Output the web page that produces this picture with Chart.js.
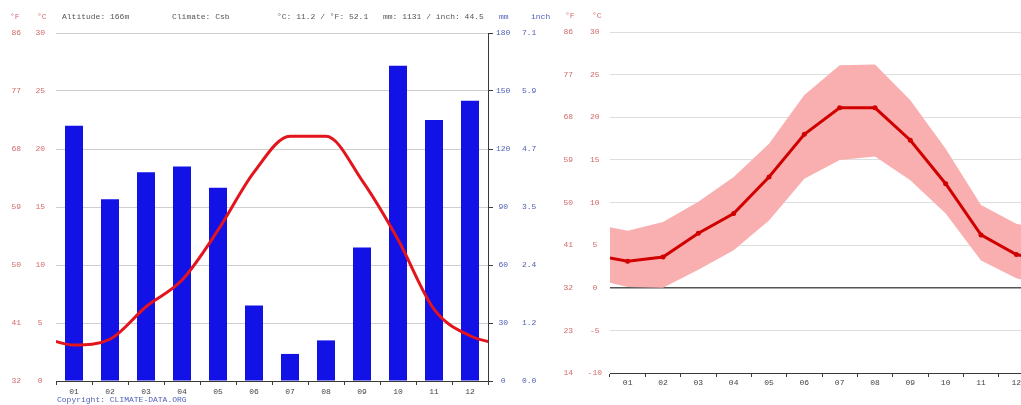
<!DOCTYPE html>
<html>
<head>
<meta charset="utf-8">
<script src="https://cdn.jsdelivr.net/npm/chart.js@4.4.1/dist/chart.umd.min.js"></script>
<style>
  html, body { margin:0; padding:0; background:#fff; }
  body { width:1021px; height:405px; overflow:hidden; position:relative; font-family:"Liberation Mono", "DejaVu Sans Mono", monospace; }
  .t { position:absolute; font-size:8px; line-height:8px; white-space:pre; }
  .red { color:#d46a6a; }
  .blue { color:#5060b8; }
  .gray { color:#555; }
  #w1 { position:absolute; left:0; top:0; width:550px; height:405px; }
  #w2 { position:absolute; left:550px; top:0; width:500px; height:405px; }
</style>
</head>
<body>
<div id="w1"><canvas id="c1" width="550" height="405"></canvas></div>
<div id="w2"><canvas id="c2" width="500" height="405"></canvas></div>

<span class="t red" style="left:10px;top:13px">°F</span>
<span class="t red" style="left:37px;top:13px">°C</span>
<span class="t gray" style="left:62px;top:13px" id="hAlt"></span>
<span class="t gray" style="left:172px;top:13px" id="hClim"></span>
<span class="t gray" style="left:277px;top:13px" id="hTemp"></span>
<span class="t gray" style="left:383px;top:13px" id="hPrec"></span>
<span class="t blue" style="left:499px;top:13px">mm</span>
<span class="t blue" style="left:531px;top:13px">inch</span>
<span class="t blue" style="left:57px;top:396px">Copyright: CLIMATE-DATA.ORG</span>

<span class="t red" style="left:565px;top:12px">°F</span>
<span class="t red" style="left:592px;top:12px">°C</span>

<script>
// ---------------- data ----------------
const months = ['01','02','03','04','05','06','07','08','09','10','11','12'];
const precipMm = [132, 94, 108, 111, 100, 39, 14, 21, 69, 163, 135, 145];
const tempMean = [3.1, 3.6, 6.4, 8.7, 13.0, 18.0, 21.1, 21.1, 17.3, 12.2, 6.2, 3.9];
const tempMax  = [6.7, 7.7, 10.1, 13.0, 16.9, 22.6, 26.1, 26.2, 22.0, 16.3, 9.7, 7.5];
const tempMin  = [0.1, 0.0, 2.1, 4.4, 7.9, 12.8, 15.0, 15.4, 12.6, 8.7, 3.2, 1.1];

const climTicksC = [0, 5, 10, 15, 20, 25, 30];
const climTicksF = [32, 41, 50, 59, 68, 77, 86];
const mmTicks    = [0, 30, 60, 90, 120, 150, 180];
const inchTicks  = ['0.0', '1.2', '2.4', '3.5', '4.7', '5.9', '7.1'];
const rangeTicksC = [-10, -5, 0, 5, 10, 15, 20, 25, 30];
const rangeTicksF = [14, 23, 32, 41, 50, 59, 68, 77, 86];

const altitudeText = 'Altitude: 166m';
const climateText = 'Climate: Csb';
const tempSummary = '°C: 11.2 / °F: 52.1';
const precSummary = 'mm: 1131 / inch: 44.5';

document.getElementById('hAlt').textContent = altitudeText;
document.getElementById('hClim').textContent = climateText;
document.getElementById('hTemp').textContent = tempSummary;
document.getElementById('hPrec').textContent = precSummary;

// ---------------- helpers ----------------
// year wraps around: December before January, January after December
function wrapSeries(vals) {
  const n = vals.length;
  const pts = [{x: -0.5, y: vals[n - 1]}];
  vals.forEach((v, i) => pts.push({x: i + 0.5, y: v}));
  pts.push({x: n + 0.5, y: vals[0]});
  return pts;
}
function fixedTicks(arr) {
  return function (scale) { scale.ticks = arr.map(v => ({value: v})); };
}
function setWidth(w) { return function (s) { s.width = w; }; }
function setHeight(h) { return function (s) { s.height = h; }; }

Chart.defaults.font.family = '"Liberation Mono", "DejaVu Sans Mono", monospace';
Chart.defaults.font.size = 8;

const RED_TXT = '#d46a6a';
const BLUE_TXT = '#5060b8';
const AX = '#3a3a3a';
const font = {family: Chart.defaults.font.family, size: 8};

// ---------------- left: climograph ----------------
new Chart(document.getElementById('c1'), {
  type: 'line',
  data: {
    labels: months,
    datasets: [
      {
        type: 'line',
        data: wrapSeries(tempMean),
        xAxisID: 'xl',
        yAxisID: 'yC',
        borderColor: '#e3141b',
        borderWidth: 3,
        pointRadius: 0,
        cubicInterpolationMode: 'monotone',
        fill: false,
        clip: 0,
        order: 0
      },
      {
        type: 'bar',
        data: precipMm,
        xAxisID: 'x',
        yAxisID: 'yMm',
        backgroundColor: '#1212e6',
        grouped: false,
        barPercentage: 0.5,
        categoryPercentage: 1,
        order: 1
      }
    ]
  },
  options: {
    responsive: false,
    animation: false,
    devicePixelRatio: 1,
    layout: {padding: {top: 33, bottom: 10, left: 0, right: 0}},
    plugins: {legend: {display: false}, tooltip: {enabled: false}},
    scales: {
      x: {
        type: 'category', labels: months, offset: true, position: 'bottom',
        grid: {offset: true, drawOnChartArea: false, tickLength: 4, color: AX},
        border: {color: AX},
        ticks: {color: '#444', font: font, padding: 2, maxRotation: 0, autoSkip: false},
        afterFit: setHeight(14)
      },
      xl: {type: 'linear', display: false, min: 0, max: 12, offset: false, grid: {offset: false}},
      yC: {
        position: 'left', min: 0, max: 30, weight: 1,
        afterBuildTicks: fixedTicks(climTicksC),
        ticks: {color: RED_TXT, font: font, crossAlign: 'center', padding: 11},
        grid: {color: '#cfcfcf', drawTicks: false},
        border: {display: false},
        afterFit: setWidth(28)
      },
      yF: {
        position: 'left', min: 0, max: 30, weight: 2,
        afterBuildTicks: fixedTicks(climTicksC),
        ticks: {color: RED_TXT, font: font, crossAlign: 'center', padding: 7,
                callback: (v, i) => climTicksF[i]},
        grid: {display: false, drawTicks: false},
        border: {display: false},
        afterFit: setWidth(28)
      },
      yMm: {
        position: 'right', min: 0, max: 180, weight: 1,
        afterBuildTicks: fixedTicks(mmTicks),
        ticks: {color: BLUE_TXT, font: font, crossAlign: 'center', padding: 3},
        grid: {drawOnChartArea: false, tickLength: 5, color: AX},
        border: {color: AX},
        afterFit: setWidth(28)
      },
      yIn: {
        position: 'right', min: 0, max: 180, weight: 2,
        afterBuildTicks: fixedTicks(mmTicks),
        ticks: {color: BLUE_TXT, font: font, crossAlign: 'center', padding: 6,
                callback: (v, i) => inchTicks[i]},
        grid: {display: false, drawTicks: false},
        border: {display: false},
        afterFit: setWidth(34)
      }
    }
  }
});

// ---------------- right: temperature range ----------------
new Chart(document.getElementById('c2'), {
  type: 'line',
  data: {
    labels: months,
    datasets: [
      {
        data: wrapSeries(tempMean), xAxisID: 'xl', yAxisID: 'yC',
        borderColor: '#d10000', borderWidth: 3, pointRadius: 2.5,
        pointBackgroundColor: '#d10000', pointBorderWidth: 0,
        fill: false, clip: 0, tension: 0, order: 0
      },
      {
        data: wrapSeries(tempMax), xAxisID: 'xl', yAxisID: 'yC',
        borderWidth: 0, borderColor: 'rgba(0,0,0,0)', pointRadius: 0,
        fill: '+1', backgroundColor: '#f9afaf', clip: 0, tension: 0, order: 1
      },
      {
        data: wrapSeries(tempMin), xAxisID: 'xl', yAxisID: 'yC',
        borderWidth: 0, borderColor: 'rgba(0,0,0,0)', pointRadius: 0,
        fill: false, clip: 0, tension: 0, order: 2
      }
    ]
  },
  options: {
    responsive: false,
    animation: false,
    devicePixelRatio: 1,
    layout: {padding: {top: 32, bottom: 18, left: 0, right: 16}},
    plugins: {legend: {display: false}, tooltip: {enabled: false}},
    scales: {
      x: {
        type: 'category', labels: months, offset: true, position: 'bottom',
        grid: {offset: true, drawOnChartArea: false, tickLength: 4, color: AX},
        border: {color: AX},
        ticks: {color: '#444', font: font, padding: 1, maxRotation: 0, autoSkip: false},
        afterFit: setHeight(14)
      },
      xl: {type: 'linear', display: false, min: 0, max: 12, offset: false},
      yC: {
        position: 'left', min: -10, max: 30, weight: 1,
        afterBuildTicks: fixedTicks(rangeTicksC),
        ticks: {color: RED_TXT, font: font, crossAlign: 'center', padding: 8},
        grid: {
          drawTicks: false,
          color: ctx => (ctx.tick && ctx.tick.value === 0) ? '#555' : '#dedede',
          lineWidth: ctx => (ctx.tick && ctx.tick.value === 0) ? 1.5 : 1
        },
        border: {display: false},
        afterFit: setWidth(30)
      },
      yF: {
        position: 'left', min: -10, max: 30, weight: 2,
        afterBuildTicks: fixedTicks(rangeTicksC),
        ticks: {color: RED_TXT, font: font, crossAlign: 'center', padding: 7,
                callback: (v, i) => rangeTicksF[i]},
        grid: {display: false, drawTicks: false},
        border: {display: false},
        afterFit: setWidth(30)
      }
    }
  }
});
</script>
</body>
</html>
